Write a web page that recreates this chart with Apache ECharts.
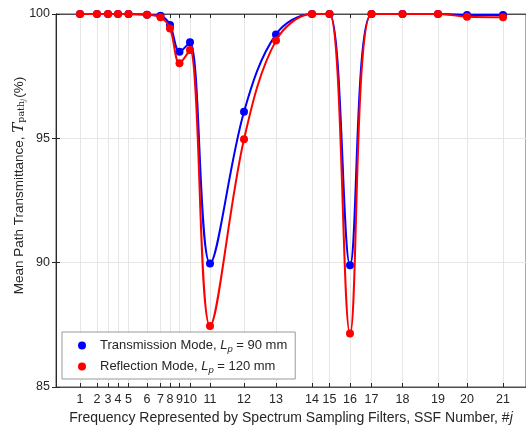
<!DOCTYPE html>
<html>
<head>
<meta charset="utf-8">
<script src="https://cdn.jsdelivr.net/npm/echarts@6/dist/echarts.min.js"></script>
<style>
html, body { margin: 0; padding: 0; background: #fff; }
#chart { width: 526px; height: 427px; }
</style>
</head>
<body>
<div id="chart"></div>
<script>
// SSF numbers and their (non uniform) positions along the frequency axis
var ssfNum = [1, 2, 3, 4, 5, 6, 7, 8, 9, 10, 11, 12, 13, 14, 15, 16, 17, 18, 19, 20, 21];
var ssfPos = [24, 41, 52, 62, 72.5, 91, 104.5, 114, 123.5, 134, 154, 188, 220, 256, 273.5, 294, 315.5, 346.5, 382, 411, 447];

var transData = [100, 100, 100, 100, 100, 99.97, 99.93, 99.56, 98.48, 98.86, 89.97, 96.07, 99.18, 100, 100, 89.9, 100, 100, 100, 99.96, 99.96];
var reflData = [100, 100, 100, 100, 100, 99.97, 99.87, 99.42, 98.02, 98.55, 87.45, 94.96, 98.93, 100, 100, 87.15, 100, 100, 100, 99.89, 99.87];

var FontColor = '#262626';
var FontName = 'Liberation Sans';

function pairs(vals) {
    return ssfPos.map(function (p, i) { return [p, vals[i]]; });
}

var option = {
    animation: false,
    grid: {
        left: 56, top: 14, right: 0, bottom: 40,
        outerBoundsMode: 'none',
        containLabel: false,
        show: true, borderColor: '#262626', borderWidth: 0.8
    },
    legend: {
        orient: 'vertical',
        left: 62, top: 332,
        z: 10,
        padding: [5, 8, 4, 16],
        itemGap: 4,
        itemWidth: 8, itemHeight: 8,
        icon: 'circle',
        backgroundColor: '#fff',
        borderColor: '#999',
        borderWidth: 1,
        data: ['Transmission Mode', 'Reflection Mode'],
        formatter: function (name) {
            var d = name == 'Transmission Mode' ? '90' : '120';
            return '{f|' + name + ', }{i|L}{s|p}{n| = ' + d + ' mm}';
        },
        textStyle: {
            color: FontColor,
            fontFamily: FontName,
            rich: {
                f: { fontSize: 13, fontFamily: FontName, color: FontColor, lineHeight: 16, padding: [0, 0, 0, 9] },
                n: { fontSize: 13, fontFamily: FontName, color: FontColor, lineHeight: 16 },
                i: { fontSize: 13, fontFamily: FontName, fontStyle: 'italic', color: FontColor, lineHeight: 16 },
                s: { fontSize: 9.5, fontFamily: FontName, fontStyle: 'italic', color: FontColor, padding: [7, 0, 0, 0], lineHeight: 16 }
            }
        }
    },
    xAxis: [
        {
            type: 'value',
            min: 0, max: 470,
            position: 'bottom',
            axisLine: { show: true, lineStyle: { color: '#262626', width: 0.8 } },
            axisTick: { show: true, inside: true, length: 4, customValues: ssfPos, lineStyle: { color: '#262626' } },
            axisLabel: {
                customValues: ssfPos,
                color: FontColor, fontFamily: FontName, fontSize: 12.5, margin: 6,
                formatter: function (v) { return ssfNum[ssfPos.indexOf(v)]; }
            },
            splitLine: { show: false },
            name: '{n|Frequency Represented by Spectrum Sampling Filters, SSF Number, #}{i|j}',
            nameLocation: 'middle',
            nameGap: 24,
            nameMoveOverlap: false,
            nameTextStyle: {
                rich: {
                    n: { fontSize: 14, fontFamily: FontName, color: FontColor },
                    i: { fontSize: 14, fontFamily: FontName, fontStyle: 'italic', color: FontColor }
                }
            }
        },
        {
            type: 'value',
            min: 0, max: 470,
            position: 'top',
            axisLine: { show: true, lineStyle: { color: '#262626', width: 0.8 } },
            axisTick: { show: true, inside: true, length: 4, customValues: ssfPos, lineStyle: { color: '#262626' } },
            axisLabel: { show: false },
            splitLine: { show: false }
        }
    ],
    yAxis: [
        {
            type: 'value',
            min: 85, max: 100, interval: 5,
            position: 'left',
            axisLine: { show: true, lineStyle: { color: '#262626', width: 0.8 } },
            axisTick: { show: true, inside: true, length: 4, lineStyle: { color: '#262626' } },
            axisLabel: { color: FontColor, fontFamily: FontName, fontSize: 12.5, margin: 6 },
            splitLine: { show: true, lineStyle: { color: '#e6e6e6', width: 1 } },
            name: '{n|Mean Path Transmittance, }{t|T}{s|path}{j|j}{n|(%)}',
            nameLocation: 'middle',
            nameRotate: 90,
            nameGap: 29,
            nameMoveOverlap: false,
            nameTextStyle: {
                padding: [0, 0, 0, 30],
                rich: {
                    n: { fontSize: 13.5, fontFamily: FontName, color: FontColor },
                    t: { fontSize: 15, fontFamily: 'DejaVu Serif', fontStyle: 'italic', color: FontColor },
                    s: { fontSize: 9.5, fontFamily: 'DejaVu Serif', color: FontColor, padding: [6, 0, 0, 0] },
                    j: { fontSize: 7, fontFamily: 'DejaVu Serif', fontStyle: 'italic', color: FontColor, padding: [9, 1, 0, 0] }
                }
            }
        },
        {
            type: 'value',
            min: 85, max: 100, interval: 5,
            position: 'right',
            axisLine: { show: true, lineStyle: { color: '#262626', width: 0.8 } },
            axisTick: { show: true, inside: true, length: 4, lineStyle: { color: '#262626' } },
            axisLabel: { show: false },
            splitLine: { show: false }
        }
    ],
    series: [
        {
            // vertical grid lines at each SSF position
            name: 'grid',
            type: 'line',
            data: [],
            z: 0,
            silent: true,
            markLine: {
                silent: true,
                z: 0,
                symbol: ['none', 'none'],
                label: { show: false },
                lineStyle: { color: '#e6e6e6', width: 1, type: 'solid' },
                data: ssfPos.map(function (p) { return { xAxis: p }; })
            }
        },
        {
            name: 'Transmission Mode',
            type: 'line',
            data: pairs(transData),
            smooth: 0.35,
            symbol: 'circle',
            symbolSize: 8,
            itemStyle: { color: '#0000ff' },
            lineStyle: { color: '#0000ff', width: 2 },
            z: 3
        },
        {
            name: 'Reflection Mode',
            type: 'line',
            data: pairs(reflData),
            smooth: 0.35,
            symbol: 'circle',
            symbolSize: 8,
            itemStyle: { color: '#ff0000' },
            lineStyle: { color: '#ff0000', width: 2 },
            z: 4
        }
    ]
};

var chart = echarts.init(document.getElementById('chart'), null, { renderer: 'canvas' });
chart.setOption(option);
</script>
</body>
</html>
